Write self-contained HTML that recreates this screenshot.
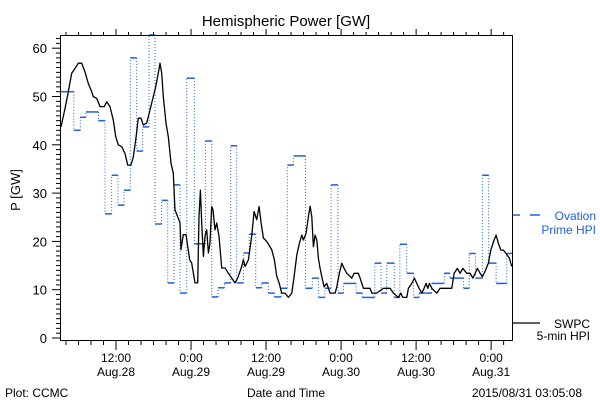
<!DOCTYPE html>
<html><head><meta charset="utf-8"><style>
html,body{margin:0;padding:0;background:#fff;}
svg{display:block;font-family:"Liberation Sans",sans-serif;}
</style></head><body>
<svg id="chart" width="600" height="400" viewBox="0 0 600 400">
<rect x="0" y="0" width="600" height="400" fill="#fff"/>
<text x="286" y="26" font-size="15" text-anchor="middle">Hemispheric Power [GW]</text>
<text x="20" y="190" font-size="13" text-anchor="middle" transform="rotate(-90 20 190)">P [GW]</text>
<text x="5" y="397" font-size="12">Plot: CCMC</text>
<text x="286" y="397" font-size="12" text-anchor="middle">Date and Time</text>
<text x="582" y="397" font-size="12" text-anchor="end">2015/08/31 03:05:08</text>
<g id="grid"></g>
<g id="series"></g>
<rect x="60.5" y="35.5" width="452" height="305" fill="none" stroke="#000" stroke-width="1"/>
<g>
<line x1="513" y1="215" x2="520" y2="215" stroke="#1f5fe0" stroke-width="1.5"/>
<line x1="530" y1="215" x2="540" y2="215" stroke="#1f5fe0" stroke-width="1.5"/>
<text x="596" y="220" font-size="12" fill="#1f5fe0" text-anchor="end">Ovation</text>
<text x="596" y="234" font-size="12" fill="#1f5fe0" text-anchor="end">Prime HPI</text>
</g>
<g>
<line x1="513" y1="323" x2="540" y2="323" stroke="#000" stroke-width="1.2"/>
<text x="590" y="328" font-size="12" text-anchor="end">SWPC</text>
<text x="590" y="340" font-size="12" text-anchor="end">5-min HPI</text>
</g>
</svg>
<script>
const ovTimes=[3.2,5.25,6.29,7.2,9.17,10.24,11.3,12.3,13.28,14.29,15.3,16.27,17.28,18.24,19.3,20.27,21.28,22.24,23.31,24.53,26.29,27.31,28.32,29.33,30.35,31.3,32.37,33.33,34.35,35.3,36.37,37.33,38.4,39.4,40.4,42.3,43.4,44.4,45.4,46.4,47.5,48.4,50.4,51.4,53.4,54.4,55.3,56.5,57.4,58.5,59.6,60.5,62.5,64.5,65.4,67.6,68.5,69.5,70.6,71.6,72.8,74.5];
const ovValues=[51,43,45.7,46.8,45,25.7,33.7,27.5,30.6,58,38.7,43.7,66,23.6,28.5,11.4,31.7,9.3,53.8,19.5,40.8,8.5,10.4,11.4,39.8,11.4,17.6,21.5,10.4,11.4,9.3,8.5,10.3,35.8,37.7,10.3,12.4,8.4,10.3,31.7,9.3,11.3,9.3,8.4,15.5,9.3,15.5,8.4,19.4,13.4,8.4,9.3,11.3,13.4,12.4,10.3,17.5,12.4,33.7,15.5,11.3,17.5];
const swTimes=[3.2,3.84,4.37,4.91,5.44,5.97,6.51,7.04,7.57,8.11,8.37,8.91,9.44,10.13,10.51,11.04,11.57,11.95,12.37,12.91,13.44,13.87,14.4,14.77,15.15,15.57,16,16.37,16.91,17.44,17.97,18.35,18.77,19.04,19.31,19.57,20,20.37,20.8,21.17,21.44,21.87,22.24,22.4,22.77,23.2,23.47,23.79,24.11,24.64,25.07,25.28,25.49,25.71,25.97,26.24,26.51,26.77,27.04,27.31,27.52,27.84,28.11,28.48,28.91,29.44,29.97,30.51,31.04,31.47,32.11,32.37,32.64,33.17,33.71,34.08,34.51,34.88,35.2,35.57,36.11,36.91,37.33,37.71,38.08,38.51,39.04,39.57,40.11,40.48,40.91,41.33,41.71,41.97,42.4,42.77,43.04,43.31,43.57,43.84,44.11,44.37,44.64,44.91,45.28,45.71,45.97,46.24,47.04,47.31,47.73,48.11,48.48,48.91,49.71,50.08,50.77,51.04,51.57,52.64,52.91,53.71,54.77,55.84,56.37,57.17,57.55,57.87,58.51,58.77,59.31,59.73,60.11,60.48,60.91,61.28,61.6,61.87,62.13,62.51,63.31,63.84,65.71,66.08,66.61,67.04,67.47,68.11,68.64,69.07,69.44,69.81,70.24,70.61,71.04,71.57,71.95,72.48,72.8,73.17,73.55,73.97,74.4,74.93,75.31];
const swValues=[43.7,47.5,51,54.8,55.8,56.9,56.9,55.1,52.7,51,50,49.6,47.9,47.9,48.9,47.9,45.1,41.7,40,39.6,38.2,35.8,35.8,37.5,41,45.5,45.5,44.1,44.5,47.2,50,52,54.8,56.9,54.8,50,44.5,41.7,36.2,34.1,26.5,25.1,23.8,18.3,21.4,21.4,19,16.2,15.5,11.4,11.4,25.1,30.6,23.8,16.9,21.1,22.4,17.6,19.7,27.2,26.5,22.4,23.8,21.1,14.5,14.5,13.4,12.4,11.4,12.4,14.8,16.2,14.8,16.2,21.1,26.2,24.5,27.2,23.8,20.7,20,18.3,16.2,12.8,11.4,9.3,9.3,8.4,9.3,12.7,17.2,19.6,21.3,20.3,21.7,25.1,27.3,25.1,18.9,21.3,20.3,16.5,14.4,12.7,10.6,11.3,10.3,9.3,9.3,10.6,13.4,15.5,14.4,13.4,12.4,13.4,13.4,12.4,10.3,10.3,9.3,9.3,10.3,10.3,9.3,8.4,9.3,8.4,8.4,10.3,11.3,12.4,11.3,10.3,9.3,10.3,11.3,10.3,11.3,10.3,9.3,10.3,10.3,13.4,14.4,13.4,14.4,13.4,13.4,12.4,13.4,14.4,13.4,12.7,13.8,15.5,18.2,20.3,21.3,19.6,18.2,18.2,17.5,16.5,14.8];
const xTickHours=[12,24,36,48,60,72];
const xTickLabels=[["12:00","Aug.28"],["0:00","Aug.29"],["12:00","Aug.29"],["0:00","Aug.30"],["12:00","Aug.30"],["0:00","Aug.31"]];
const yTickValues=[0,10,20,30,40,50,60];

const NS="http://www.w3.org/2000/svg";
const X0=61,X1=513,H0=3.2,H1=75.5,YTOP=35,YBOT=340;
const xS=h=>X0+(h-H0)*(X1-X0)/(H1-H0);
const yS=v=>Math.max(YTOP,338-v*4.83);
function mk(tag,attrs,parent){const e=document.createElementNS(NS,tag);for(const k in attrs)e.setAttribute(k,attrs[k]);parent.appendChild(e);return e;}
const grid=document.getElementById('grid'),ser=document.getElementById('series');
// x ticks
for(let h=4;h<=H1;h+=2){
  const major=h%12===0;const x=xS(h);
  const t=mk('line',{x1:x,y1:340,x2:x,y2:major?350:345,stroke:'#000','stroke-width':1},grid);
  
  
  const t2=mk('line',{x1:x,y1:35,x2:x,y2:major?29:32,stroke:'#000','stroke-width':1},grid);
  
  
}
xTickHours.forEach((h,i)=>{
  const x=xS(h);
  const a=mk('text',{x:x,y:362,'font-size':12,'text-anchor':'middle'},grid);a.textContent=xTickLabels[i][0];
  
  
  const b=mk('text',{x:x,y:376,'font-size':12,'text-anchor':'middle'},grid);b.textContent=xTickLabels[i][1];
  
  
});
// y ticks
for(let v=0;v<=62;v++){
  const y=yS(v);const major=v%10===0;
  const t=mk('line',{x1:major?52:56,y1:y,x2:60,y2:y,stroke:'#000','stroke-width':1},grid);
  
  
}
yTickValues.forEach(v=>{
  const t=mk('text',{x:47,y:yS(v)+5,'font-size':13,'text-anchor':'end'},grid);t.textContent=v;
  
  
});
// ovation steps
ovTimes.forEach((t,i)=>{
  const end=i<ovTimes.length-1?ovTimes[i+1]:H1;
  const y=yS(ovValues[i]);
  const s=mk('line',{x1:xS(t),y1:y,x2:xS(end),y2:y,stroke:'#1f5fe0','stroke-width':1.5},ser);
  
  
  if(i<ovTimes.length-1){
    const d=mk('line',{x1:xS(end),y1:y,x2:xS(end),y2:yS(ovValues[i+1]),stroke:'#1f5fe0','stroke-width':1,'stroke-dasharray':'1,2'},ser);
    
    
  }
});
// swpc line
const pts=swTimes.map((t,i)=>xS(t).toFixed(1)+','+yS(swValues[i]).toFixed(1)).join(' ');
const pl=mk('polyline',{points:pts,fill:'none',stroke:'#000','stroke-width':1.3,'stroke-linejoin':'round'},ser);


</script>
</body></html>
